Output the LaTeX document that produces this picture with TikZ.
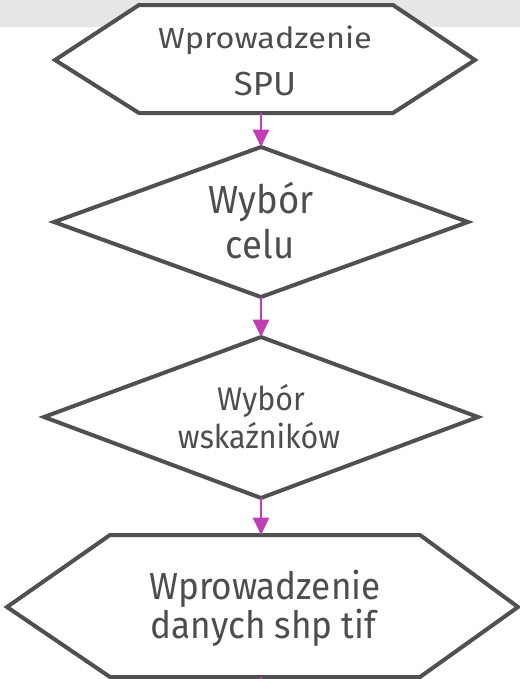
\documentclass[tikz,border=0pt]{standalone}
\usepackage{fontspec}
\setmainfont[FakeStretch=0.93]{Fira Sans}
\usetikzlibrary{arrows.meta}
\definecolor{band}{HTML}{E6E6E6}
\definecolor{edge}{HTML}{505050}
\definecolor{ink}{HTML}{4D4D4D}
\definecolor{flow}{HTML}{C03DB4}
\tikzset{
  box/.style={draw=edge, fill=white, line width=3pt, line join=miter},
  flowline/.style={draw=flow, line width=1.5pt, -{Triangle[width=12pt,length=13pt]}},
  plainflow/.style={draw=flow, line width=1.5pt},
  lbl/.style={text=ink, anchor=base, inner sep=0pt, outer sep=0pt},
}
\newcommand{\fsz}[1]{\fontsize{#1}{#1}\selectfont}
\begin{document}
\begin{tikzpicture}[x=0.75pt,y=-0.75pt]
  \clip (0,0) rectangle (520,679);
  % header strip
  \fill[band] (0,0) rectangle (520,27);

  % start: hexagon
  \draw[box] (139,5) -- (393,5) -- (475,60) -- (393,113) -- (139,113) -- (55,60) -- cycle;
  \coordinate (h1s) at (261,113);

  % decision: goal
  \draw[box] (261,147) -- (468,222) -- (261,297) -- (54,222) -- cycle;
  \coordinate (d1n) at (261,147);
  \coordinate (d1s) at (261,297);

  % decision: indicators
  \draw[box] (261,337) -- (478,417) -- (261,498) -- (44,417) -- cycle;
  \coordinate (d2n) at (261,337);
  \coordinate (d2s) at (261,498);

  % data input: hexagon
  \draw[box] (110,535) -- (420,535) -- (518,607) -- (420,677) -- (110,677) -- (7,607) -- cycle;
  \coordinate (h2n) at (261,535);
  \coordinate (h2s) at (261,677);
  \coordinate (next) at (261,700);

  % connectors
  \draw[flowline] (h1s) -- (d1n);
  \draw[flowline] (d1s) -- (d2n);
  \draw[flowline] (d2s) -- (h2n);
  \draw[plainflow] (h2s) -- (next);

  % labels
  \node[lbl, font=\fsz{21.8pt}] (t1a) at (265,48) {\scalebox{1.2}[1]{Wprowadzenie}};
  \node[lbl, font=\fsz{25pt}] (t1b) at (265,95) {\scalebox{1.12}[1]{SPU}};

  \node[lbl, font=\fsz{29.4pt}] (t2a) at (261,213.5) {Wybór};
  \node[lbl, font=\fsz{29.4pt}] (t2b) at (260,258) {celu};

  \node[lbl, font=\fsz{24.5pt}] (t3a) at (261,410) {Wybór};
  \node[lbl, font=\fsz{24.5pt}] (t3b) at (259,448) {wskaźników};

  \node[lbl, font=\fsz{28.3pt}] (t4a) at (265,599) {Wprowadzenie};
  \node[lbl, font=\fsz{28.3pt}] (t4b) at (263.5,638) {danych shp tif};
\end{tikzpicture}
\end{document}
